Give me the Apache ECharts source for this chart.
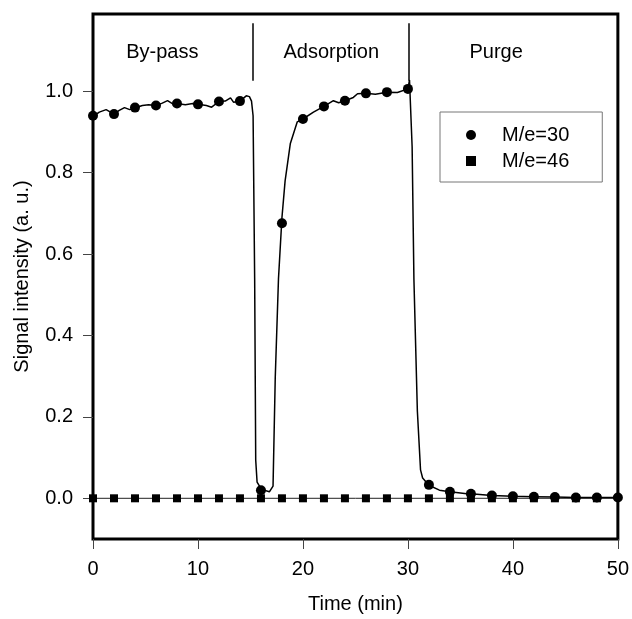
<!DOCTYPE html>
<html>
<head>
<meta charset="utf-8">
<script src="https://cdn.jsdelivr.net/npm/echarts@6/dist/echarts.min.js"></script>
<style>
    html, body {margin: 0; padding: 0; background: #fff;}
    #signalDiv {width: 632px; height: 619px;}
</style>
</head>
<body>
<div id="signalDiv"></div>
<script>
    // marker times (min), every 2 min
    var markerTimes = [0, 2, 4, 6, 8, 10, 12, 14, 16, 18, 20, 22, 24, 26, 28, 30, 32, 34, 36, 38, 40, 42, 44, 46, 48, 50];
    // M/e=30 marker values
    var me30Values = [0.940, 0.944, 0.960, 0.965, 0.970, 0.968, 0.975, 0.976, 0.020, 0.676, 0.932, 0.963, 0.977,
        0.995, 0.998, 1.006, 0.033, 0.016, 0.011, 0.007, 0.005, 0.004, 0.003, 0.002, 0.002, 0.002];
    // M/e=46 marker values (0 to 48 min)
    var me46Values = [0, 0, 0, 0, 0, 0, 0, 0, 0, 0, 0, 0, 0, 0, 0, 0, 0, 0, 0, 0, 0, 0, 0, 0, 0];
    // continuous trace of M/e=30, [time, signal]
    var me30Trace = [
        [0, 0.938], [0.6, 0.949], [1.25, 0.955], [2, 0.944], [2.5, 0.953], [3, 0.960], [3.5, 0.955], [4, 0.959],
        [4.7, 0.965], [5.3, 0.967], [6, 0.965], [6.6, 0.971], [7.1, 0.977], [7.6, 0.969], [8, 0.970], [8.8, 0.967],
        [9.5, 0.970], [10, 0.968], [10.8, 0.965], [11.3, 0.961], [12, 0.975], [12.6, 0.976], [13.1, 0.984],
        [13.4, 0.973], [14, 0.976], [14.6, 0.989], [14.9, 0.987], [15.1, 0.976], [15.25, 0.940], [15.4, 0.540],
        [15.5, 0.094], [15.63, 0.040], [16.05, 0.022], [16.8, 0.016], [17.15, 0.030], [17.36, 0.295],
        [17.67, 0.540], [18, 0.690], [18.3, 0.780], [18.8, 0.872], [19.46, 0.925], [20, 0.932], [21, 0.949],
        [22, 0.963], [22.9, 0.977], [23.4, 0.972], [24, 0.977], [24.8, 0.985], [25.2, 0.994], [26, 0.995],
        [26.9, 0.993], [28, 0.998], [29, 0.997], [30, 1.006], [30.15, 1.028], [30.4, 0.864], [30.57, 0.539],
        [30.9, 0.214], [31.2, 0.070], [31.4, 0.050], [32, 0.032], [33, 0.020], [34, 0.016], [35.6, 0.011],
        [36, 0.011], [38, 0.007], [40, 0.005], [42, 0.004], [44, 0.003], [46, 0.002], [48, 0.002], [50, 0.002]
    ];
    // M/e=46 trace
    var me46Trace = [[0, 0], [50, 0]];
    // phase labels
    var phaseNames = ['By-pass', 'Adsorption', 'Purge'];
    var phaseLabelTimes = [6.6, 22.7, 38.4];
    var phaseLabelLevel = 1.095;
    // vertical phase separators
    var phaseBreaks = [15.2, 30.12];
    var breakBottom = [1.026, 1.026];
    var breakTop = 1.167;
    var yTickValues = [0, 0.2, 0.4, 0.6, 0.8, 1.0];

    var font = '"Liberation Sans", Arial, Helvetica, sans-serif';

    function pairs(xs, ys) {
        var out = [];
        for (var i = 0; i < ys.length; i++) {
            out.push([xs[i], ys[i]]);
        }
        return out;
    }

    function loadSignalChart() {
        var chart = echarts.init(document.getElementById('signalDiv'), null, {renderer: 'canvas'});
        var breakLines = [];
        for (var i = 0; i < phaseBreaks.length; i++) {
            breakLines.push([{coord: [phaseBreaks[i], breakBottom[i]]}, {coord: [phaseBreaks[i], breakTop]}]);
        }
        var phaseData = [];
        for (var j = 0; j < phaseNames.length; j++) {
            phaseData.push({value: [phaseLabelTimes[j], phaseLabelLevel], name: phaseNames[j]});
        }
        var option = {
            animation: false,
            backgroundColor: '#fff',
            textStyle: {fontFamily: font},
            grid: {left: 93, right: 13, top: 14, bottom: 77, show: true, borderColor: '#000', borderWidth: 3},
            legend: {
                orient: 'vertical',
                left: 440,
                top: 112,
                padding: [13, 33, 11, 26],
                itemGap: 6,
                itemWidth: 10,
                itemHeight: 10,
                borderColor: '#777',
                borderWidth: 1,
                borderRadius: 0,
                textStyle: {fontFamily: font, fontSize: 20, color: '#000', padding: [0, 0, 0, 21]},
                data: [{name: 'M/e=30', icon: 'circle'}, {name: 'M/e=46', icon: 'rect'}]
            },
            xAxis: {
                type: 'value',
                min: 0,
                max: 50,
                interval: 10,
                name: 'Time (min)',
                nameLocation: 'middle',
                nameGap: 55,
                nameTextStyle: {fontFamily: font, fontSize: 20, color: '#000'},
                axisLine: {show: false, onZero: false},
                axisTick: {show: true, length: 10, lineStyle: {color: '#444', width: 1}},
                axisLabel: {fontFamily: font, fontSize: 20, color: '#000', margin: 20},
                splitLine: {show: false}
            },
            yAxis: {
                type: 'value',
                min: -0.1,
                max: 1.19,
                name: 'Signal intensity (a. u.)',
                nameLocation: 'middle',
                nameGap: 61,
                nameTextStyle: {fontFamily: font, fontSize: 20, color: '#000'},
                axisLine: {show: false, onZero: false},
                axisTick: {show: true, length: 10, customValues: yTickValues, lineStyle: {color: '#444', width: 1}},
                axisLabel: {
                    fontFamily: font, fontSize: 20, color: '#000', margin: 20,
                    customValues: yTickValues,
                    formatter: function (v) {
                        return v.toFixed(1);
                    }
                },
                splitLine: {show: false}
            },
            series: [
                {
                    name: 'M/e=46 trace',
                    type: 'line',
                    data: me46Trace,
                    symbol: 'none',
                    silent: true,
                    lineStyle: {color: '#222', width: 1},
                    z: 2
                },
                {
                    name: 'M/e=46',
                    type: 'scatter',
                    data: pairs(markerTimes, me46Values),
                    symbol: 'rect',
                    symbolSize: 8,
                    itemStyle: {color: '#000', opacity: 1},
                    z: 3
                },
                {
                    name: 'M/e=30 trace',
                    type: 'line',
                    data: me30Trace,
                    symbol: 'none',
                    silent: true,
                    lineStyle: {color: '#000', width: 1.5},
                    z: 4,
                    markLine: {
                        silent: true,
                        symbol: ['none', 'none'],
                        label: {show: false},
                        lineStyle: {color: '#000', width: 1.5, type: 'solid'},
                        data: breakLines
                    }
                },
                {
                    name: 'M/e=30',
                    type: 'scatter',
                    data: pairs(markerTimes, me30Values),
                    symbol: 'circle',
                    symbolSize: 10,
                    itemStyle: {color: '#000', opacity: 1},
                    z: 5
                },
                {
                    name: 'phases',
                    type: 'scatter',
                    data: phaseData,
                    symbolSize: 0,
                    silent: true,
                    itemStyle: {opacity: 1},
                    label: {
                        show: true,
                        position: 'inside',
                        formatter: '{b}',
                        fontFamily: font,
                        fontSize: 20,
                        color: '#000',
                        opacity: 1
                    },
                    z: 6
                }
            ]
        };
        chart.setOption(option);
    }

    loadSignalChart();
</script>
</body>
</html>
